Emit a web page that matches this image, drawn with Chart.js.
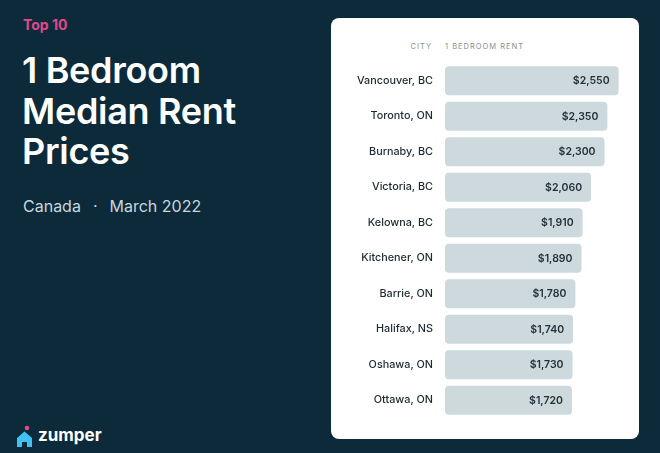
<!DOCTYPE html>
<html>
<head>
<meta charset="utf-8">
<script src="https://cdn.jsdelivr.net/npm/chart.js@4"></script>
<style>
  html, body { margin: 0; padding: 0; }
  body {
    width: 660px; height: 453px; overflow: hidden; position: relative;
    background: #0c2a3a; font-family: Inter, "Noto Sans", sans-serif;
  }
  .top10 { position: absolute; left: 23px; top: 16px; color: #e0488c; font-size: 14px; font-weight: 700; }
  .title {
    position: absolute; left: 22px; top: 50px; color: #ffffff;
    font-size: 36px; font-weight: 600; line-height: 40.5px; letter-spacing: -0.3px;
  }
  .sub { position: absolute; left: 23px; top: 196px; color: #c9d6dd; font-size: 16px; }
  .sub .dot { margin: 0 12px; }
  .logo { position: absolute; left: 16px; top: 425px; height: 24px; }
  .logo span { position: absolute; left: 22px; top: 0px; color: #fff; font-size: 17px; font-weight: 700; }
  .card {
    position: absolute; left: 331px; top: 18px; width: 308px; height: 421px;
    background: #fff; border-radius: 8px;
  }
  .hdr { position: absolute; top: 24px; font-size: 7.5px; color: #8a9094; letter-spacing: 1px; }
  .wrap { position: absolute; left: 0; top: 0; width: 308px; height: 421px; }
</style>
</head>
<body>
<div class="top10">Top 10</div>
<div class="title">1 Bedroom<br>Median Rent<br>Prices</div>
<div class="sub">Canada<span class="dot">·</span>March 2022</div>
<div class="logo">
  <svg width="18" height="24" viewBox="0 0 18 24">
    <circle cx="11" cy="3" r="2.3" fill="#e0488c"/>
    <path d="M1 13 L8.5 6.5 L16 13 L16 22 L11 22 L11 17 L6 17 L6 22 L1 22 Z" fill="#3ec3f0"/>
  </svg>
  <span>zumper</span>
</div>
<div class="card">
  <div class="hdr" style="right:207px;">CITY</div>
  <div class="hdr" style="left:114px;">1 BEDROOM RENT</div>
  <div class="wrap"><canvas id="rentChart"></canvas></div>
</div>
<script>
// Top 10 cities, 1 bedroom median rent, March 2022
var cities = ["Vancouver, BC", "Toronto, ON", "Burnaby, BC", "Victoria, BC", "Kelowna, BC",
              "Kitchener, ON", "Barrie, ON", "Halifax, NS", "Oshawa, ON", "Ottawa, ON"];
var rents = [2550, 2350, 2300, 2060, 1910, 1890, 1780, 1740, 1730, 1720];

// value axis range (bars are truncated, not drawn from zero)
var xMin = -540;
var xMax = 2575;

// draw "$2,550" inside the end of each bar
var valueLabels = {
  id: 'valueLabels',
  afterDatasetsDraw: function(chart) {
    var ctx = chart.ctx;
    var meta = chart.getDatasetMeta(0);
    ctx.save();
    ctx.font = '600 10.5px Inter, "Noto Sans", sans-serif';
    ctx.fillStyle = '#22323b';
    ctx.textAlign = 'right';
    ctx.textBaseline = 'middle';
    meta.data.forEach(function(bar, i) {
      ctx.fillText('$' + rents[i].toLocaleString('en-US'), bar.x - 9, bar.y + 0.5);
    });
    ctx.restore();
  }
};

var ctx = document.getElementById("rentChart").getContext('2d');
new Chart(ctx, {
  type: 'bar',
  data: {
    labels: cities,
    datasets: [{
      label: '1 Bedroom Rent',
      data: rents,
      base: xMin,
      backgroundColor: '#cdd9dc',
      borderRadius: 4,
      borderSkipped: false,
      barPercentage: 0.82,
      categoryPercentage: 1
    }]
  },
  options: {
    indexAxis: 'y',
    responsive: true,
    maintainAspectRatio: false,
    animation: false,
    layout: {
      padding: {top: 45, bottom: 21, left: 0, right: 19}
    },
    plugins: {
      legend: {display: false},
      tooltip: {enabled: false}
    },
    scales: {
      x: {
        display: false,
        min: xMin,
        max: xMax
      },
      y: {
        grid: {display: false, drawTicks: false},
        border: {display: false},
        ticks: {
          padding: 12,
          color: '#1d2a31',
          font: {family: 'Inter, "Noto Sans", sans-serif', size: 10.8, weight: '500'}
        },
        afterFit: function(scale) {
          scale.width = 114;
        }
      }
    }
  },
  plugins: [valueLabels]
});
</script>
</body>
</html>
